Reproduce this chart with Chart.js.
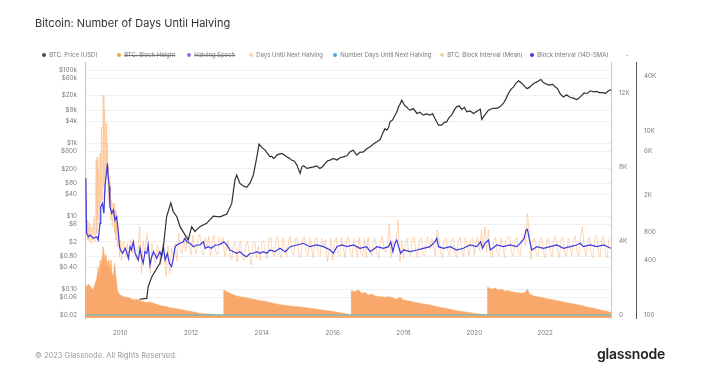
<!DOCTYPE html>
<html><head><meta charset="utf-8">
<script src="https://cdn.jsdelivr.net/npm/chart.js@4/dist/chart.umd.min.js"></script>
<style>
html,body{margin:0;padding:0;background:#fff;width:711px;height:376px;overflow:hidden;font-family:Inter,"Liberation Sans",sans-serif;}
#wrap{position:relative;width:711px;height:376px;}
#c{position:absolute;left:0;top:0;width:711px;height:376px;}
#title{position:absolute;left:35px;top:18px;font-size:11px;line-height:1;color:#333;white-space:nowrap;}
#legend{position:absolute;left:0;top:55px;width:711px;height:0;font-size:6px;color:#777;}
.li{position:absolute;top:0;transform:translateY(-50%);white-space:nowrap;display:flex;align-items:center;line-height:1;}
.dot{width:4.5px;height:4.5px;border-radius:50%;margin-right:3px;margin-left:-2.25px;flex:none;}
.off .txt{text-decoration:line-through;}
#foot{position:absolute;left:35px;top:352px;font-size:7.5px;line-height:1;color:#999;white-space:nowrap;}
#logo{position:absolute;left:597px;top:347px;font-size:14px;line-height:1;color:#222;font-weight:600;letter-spacing:-0.2px;white-space:nowrap;}
</style></head>
<body><div id="wrap"><canvas id="c" width="711" height="376"></canvas>
<div id="title">Bitcoin: Number of Days Until Halving</div>
<div id="legend"></div>
<div id="foot">© 2023 Glassnode. All Rights Reserved.</div>
<div id="logo">glassnode</div></div>
<script>
// ---------------- data ----------------
const yearTicks = [2010, 2012, 2014, 2016, 2018, 2020, 2022];

const priceTicks = [0.02, 0.06, 0.1, 0.4, 0.8, 2, 6, 10, 40, 80, 200, 600, 1000, 4000, 8000, 20000, 60000, 100000];
const priceTickLabels = ['$0.02','$0.06','$0.10','$0.40','$0.80','$2','$6','$10','$40','$80','$200','$600','$1k','$4k','$8k','$20k','$60k','$100k'];
const daysTicks = [0, 4000, 8000, 12000];
const daysTickLabels = ['0','4K','8K','12K'];
const intervalTicks = [100, 400, 800, 2000, 6000, 10000, 40000];
const intervalTickLabels = ['100','400','800','2K','6K','10K','40K'];

// BTC: Price (USD)
const priceYears = [2010.54,2010.75,2010.79,2010.89,2011.12,2011.22,2011.31,2011.43,2011.50,2011.60,2011.69,2011.92,
2012.02,2012.11,2012.25,2012.44,2012.63,2012.82,
2013.01,2013.15,2013.24,2013.29,2013.38,2013.48,2013.57,2013.67,2013.76,2013.86,2013.92,
2014.00,2014.09,2014.23,2014.28,2014.33,2014.38,2014.42,2014.49,2014.56,2014.63,2014.70,2014.77,2014.84,2014.92,2014.99,
2015.08,2015.13,2015.18,2015.27,2015.37,2015.46,2015.55,2015.64,2015.72,2015.79,2015.86,2015.93,
2016.02,2016.12,2016.21,2016.30,2016.40,2016.49,2016.58,2016.68,2016.77,2016.87,2016.96,
2017.06,2017.15,2017.25,2017.34,2017.43,2017.48,2017.53,2017.58,2017.62,2017.69,2017.76,2017.81,2017.86,2017.90,2017.95,
2018.00,2018.04,2018.09,2018.14,2018.19,2018.28,2018.38,2018.46,2018.56,2018.65,2018.75,2018.82,2018.89,2018.94,2018.99,
2019.08,2019.15,2019.22,2019.29,2019.36,2019.43,2019.50,2019.57,2019.65,2019.72,2019.79,2019.88,2019.98,
2020.05,2020.12,2020.17,2020.21,2020.26,2020.33,2020.40,2020.52,2020.64,2020.73,2020.82,2020.89,2020.96,
2021.04,2021.11,2021.18,2021.25,2021.32,2021.39,2021.44,2021.48,2021.55,2021.62,2021.70,2021.77,2021.83,2021.88,2021.94,
2022.00,2022.07,2022.14,2022.21,2022.28,2022.35,2022.42,2022.47,2022.52,2022.60,2022.71,2022.80,2022.89,2022.95,
2023.04,2023.10,2023.18,2023.28,2023.37,2023.45,2023.55,2023.62,2023.70,2023.78,2023.86];
const priceValues = [0.054,0.057,0.119,0.22,0.52,1.47,9.7,23.4,13.3,9.7,5.2,2.24,
5.2,3.8,5.2,6.4,10.1,9.7,
11.5,22.5,98,134,79,67,62,82,134,423,940,
764,644,423,440,382,410,471,500,524,480,423,390,344,320,251,
149,225,240,204,215,225,240,204,230,279,330,344,
380,344,400,423,450,579,640,471,560,579,700,
793,950,1086,1250,2038,2500,2270,2700,3820,4300,5820,7000,9820,11500,14960,
12160,10500,9820,8500,7980,8800,6490,7000,5820,6300,5820,6400,4730,3800,3100,
3100,3700,3820,5100,5820,8000,9820,10500,8340,9500,7180,7600,6490,
7200,7980,8500,4450,5240,6500,7980,9000,8890,10000,12160,16000,22800,
30000,34600,44000,50500,45000,38500,34000,31300,33000,38500,44000,47300,52000,55100,46000,
42900,40000,38500,41000,34600,31000,22800,20000,18400,21000,17700,17000,15600,16800,
20500,23500,22800,27000,25200,26000,23700,24500,22800,26500,29400];

// Days Until Next Halving
const daysYears = [2009.01,2009.05,2009.10,2009.15,2009.19,2009.24,2009.29,2009.34,2009.36,2009.38,2009.41,2009.43,2009.46,2009.49,2009.51,2009.54,2009.57,2009.60,2009.63,2009.66,2009.68,2009.71,2009.74,2009.77,2009.81,2009.84,2009.88,2009.92,2009.96,
2010.00,2010.09,2010.18,2010.28,2010.37,2010.47,2010.56,2010.65,2010.75,2010.84,2010.94,
2011.03,2011.12,2011.22,2011.31,2011.41,2011.50,2011.69,2011.88,
2012.07,2012.25,2012.44,2012.63,2012.82,2012.92,2012.925,
2013.01,2013.10,2013.20,2013.29,2013.38,2013.57,2013.76,2013.95,
2014.14,2014.32,2014.51,2014.80,
2015.08,2015.36,2015.64,2015.93,
2016.21,2016.45,2016.52,2016.525,2016.63,2016.73,2016.82,2016.92,
2017.01,2017.10,2017.20,2017.34,2017.48,2017.62,2017.72,2017.81,2017.90,
2018.00,2018.19,2018.38,2018.56,2018.75,2018.94,
2019.13,2019.32,2019.50,2019.69,2019.88,
2020.07,2020.26,2020.37,2020.375,2020.49,2020.59,2020.68,2020.78,2020.87,2020.96,
2021.06,2021.20,2021.34,2021.44,2021.50,2021.56,2021.67,2021.86,
2022.05,2022.24,2022.42,2022.61,2022.80,2022.99,
2023.18,2023.37,2023.55,2023.74,2023.86];
const daysValues = [1530,1532,1676,1568,1441,1351,1676,1982,2252,2613,1982,2973,2613,3153,3694,3423,2973,3243,2613,2973,2793,2432,2973,2252,2072,2793,2072,1351,1171,
1081,991,955,901,811,847,775,721,667,703,631,
577,504,486,450,396,360,306,234,
162,90,60,36,10,0,1351,
1261,1171,1081,1027,991,919,847,775,
721,631,560,486,
432,360,288,216,
126,36,0,1315,1261,1351,1171,1207,
1081,1135,1027,991,955,991,901,847,955,
811,739,667,595,541,450,
378,306,234,180,126,
72,36,0,1495,1387,1450,1351,1387,1279,1315,
1261,1207,1171,1225,1387,1135,1027,955,
883,811,739,667,595,523,
432,360,270,198,130];

// Number Days Until Next Halving
const countYears = [2009.006, 2023.86];
const countValues = [0, 0];

// BTC: Block Interval (Mean), seconds
const meanYears = [2009.03,2009.05,2009.07,2009.09,2009.11,2009.13,2009.15,2009.18,2009.20,2009.23,2009.26,2009.29,2009.32,2009.34,2009.35,2009.37,2009.39,2009.41,2009.43,2009.45,2009.47,2009.49,2009.51,2009.52,2009.54,2009.56,2009.58,2009.60,2009.62,2009.64,2009.66,2009.67,2009.69,2009.71,2009.73,2009.75,2009.77,2009.79,2009.81,2009.83,2009.84,2009.86,2009.88,2009.90,2009.92,2009.95,2009.98,2010.00,2010.03,
2010.05,2010.10,2010.15,2010.20,2010.25,2010.30,2010.35,2010.40,2010.45,2010.50,2010.55,2010.60,2010.65,2010.70,2010.75,2010.80,2010.85,2010.90,2010.95,
2011.00,2011.05,2011.10,2011.15,2011.20,2011.25,2011.30,2011.35,2011.40,2011.45,2011.50,2011.55,2011.60,2011.65,2011.70,2011.75,2011.80,2011.85,2011.90,2011.95,
2012.00,2012.05,2012.10,2012.15,2012.20,2012.25,2012.30,2012.35,2012.40,2012.45,2012.50,2012.55,2012.60,2012.65,2012.70,2012.75,2012.80,2012.85,2012.90,2012.95,
2013.00,2013.05,2013.10,2013.15,2013.20,2013.25,2013.30,2013.35,2013.40,2013.45,2013.50,2013.55,2013.60,2013.65,2013.70,2013.75,2013.80,2013.85,2013.90,2013.95,
2014.00,2014.05,2014.10,2014.15,2014.20,2014.25,2014.30,2014.35,2014.40,2014.45,2014.50,2014.55,2014.60,2014.65,2014.70,2014.75,2014.80,2014.85,2014.90,2014.95,
2015.00,2015.05,2015.10,2015.15,2015.20,2015.25,2015.30,2015.35,2015.40,2015.45,2015.50,2015.55,2015.60,2015.65,2015.70,2015.75,2015.80,2015.85,2015.90,2015.95,
2016.00,2016.05,2016.10,2016.15,2016.20,2016.25,2016.30,2016.35,2016.40,2016.45,2016.50,2016.55,2016.60,2016.65,2016.70,2016.75,2016.80,2016.85,2016.90,2016.95,
2017.00,2017.05,2017.10,2017.15,2017.20,2017.25,2017.30,2017.35,2017.40,2017.45,2017.50,2017.55,2017.60,2017.65,2017.70,2017.75,2017.80,2017.85,2017.90,2017.95,
2018.00,2018.05,2018.10,2018.15,2018.20,2018.25,2018.30,2018.35,2018.40,2018.45,2018.50,2018.55,2018.60,2018.65,2018.70,2018.75,2018.80,2018.85,2018.90,2018.95,
2019.00,2019.05,2019.10,2019.15,2019.20,2019.25,2019.30,2019.35,2019.40,2019.45,2019.50,2019.55,2019.60,2019.65,2019.70,2019.75,2019.80,2019.85,2019.90,2019.95,
2020.00,2020.05,2020.10,2020.15,2020.20,2020.25,2020.30,2020.35,2020.40,2020.45,2020.50,2020.55,2020.60,2020.65,2020.70,2020.75,2020.80,2020.85,2020.90,2020.95,
2021.00,2021.05,2021.10,2021.15,2021.20,2021.25,2021.30,2021.35,2021.40,2021.45,2021.50,2021.55,2021.60,2021.65,2021.70,2021.75,2021.80,2021.85,2021.90,2021.95,
2022.00,2022.05,2022.10,2022.15,2022.20,2022.25,2022.30,2022.35,2022.40,2022.45,2022.50,2022.55,2022.60,2022.65,2022.70,2022.75,2022.80,2022.85,2022.90,2022.95,
2023.00,2023.05,2023.10,2023.15,2023.20,2023.25,2023.30,2023.35,2023.40,2023.45,2023.50,2023.55,2023.60,2023.65,2023.70,2023.75,2023.80,2023.85];
const meanValues = [3190,773,1080,653,912,626,993,602,912,653,1170,626,4840,773,5260,1080,3770,912,5720,1640,11100,1780,7350,24600,2480,16900,2100,12100,3190,7350,1780,4100,1500,3190,1080,1780,912,1640,1170,1640,773,1380,653,1170,553,912,430,653,396,
560,640,420,600,390,660,470,620,400,520,912,284,640,470,773,520,284,600,410,
365,580,450,349,600,420,261,560,284,540,430,600,390,773,520,469,700,490,741,560,
449,741,520,460,680,760,490,449,700,540,720,440,650,741,480,449,690,560,700,430,
520,653,430,400,600,626,379,560,640,420,396,590,626,450,349,600,626,420,560,396,
610,640,450,413,660,700,480,430,650,710,470,413,690,560,430,620,720,470,440,680,
700,460,420,650,710,500,430,690,560,420,640,700,450,430,680,560,660,379,500,680,
396,600,700,470,430,690,540,420,650,710,460,430,680,560,420,700,470,440,680,420,
700,520,440,660,690,470,413,640,710,520,480,560,993,413,640,560,700,1080,379,653,
413,600,682,470,430,660,700,500,420,640,690,460,430,680,710,520,680,560,430,840,
700,470,420,650,690,500,430,640,680,460,420,650,700,480,430,690,560,440,660,690,
440,620,710,500,840,560,912,480,840,470,420,650,700,470,430,690,560,420,650,700,
710,480,430,640,700,470,440,680,740,560,1270,780,400,620,690,470,430,660,700,480,
420,640,690,470,430,680,710,500,420,650,700,480,430,690,560,440,660,720,480,430,
700,912,560,430,640,700,460,420,680,740,500,430,650,710,480,420,660,700];

// Block Interval (14D-SMA), seconds
const smaYears = [2009.03,2009.05,2009.10,2009.15,2009.24,2009.34,2009.38,2009.43,2009.45,2009.50,2009.54,2009.57,2009.60,2009.64,2009.66,2009.69,2009.71,2009.76,2009.81,2009.85,2009.90,2009.95,2009.98,
2010.01,2010.07,2010.14,2010.18,2010.23,2010.28,2010.32,2010.37,2010.42,2010.47,2010.51,2010.56,2010.61,2010.65,2010.70,2010.75,2010.79,2010.84,2010.89,2010.94,
2011.03,2011.12,2011.17,2011.22,2011.27,2011.33,2011.39,2011.45,2011.50,2011.55,2011.60,2011.69,2011.78,2011.83,2011.88,2011.97,
2012.07,2012.16,2012.25,2012.35,2012.40,2012.49,2012.58,2012.68,2012.77,2012.87,2012.93,
2013.01,2013.10,2013.20,2013.29,2013.38,2013.48,2013.57,2013.67,2013.76,2013.86,2013.95,
2014.04,2014.14,2014.23,2014.37,2014.51,2014.66,2014.80,2014.99,
2015.17,2015.36,2015.55,2015.74,2015.93,
2016.02,2016.12,2016.26,2016.40,2016.59,2016.77,2016.96,
2017.06,2017.25,2017.43,2017.58,2017.64,2017.70,2017.76,2017.81,2017.86,2017.92,
2018.00,2018.19,2018.38,2018.56,2018.75,2018.89,2018.94,2018.99,
2019.13,2019.32,2019.50,2019.69,2019.88,
2020.07,2020.18,2020.23,2020.30,2020.40,2020.45,2020.64,2020.82,
2021.01,2021.20,2021.34,2021.41,2021.46,2021.50,2021.56,2021.62,2021.77,2021.95,
2022.14,2022.33,2022.52,2022.71,2022.89,2022.99,
2023.08,2023.27,2023.46,2023.65,2023.86];
const smaValues = [3062,773,710,741,682,710,653,993,1503,1637,1274,2483,3186,4457,3186,2483,1503,1274,1385,1078,1170,773,553,
509,469,531,488,413,553,509,626,469,430,396,531,413,365,488,469,577,349,430,488,
413,488,430,553,396,469,365,335,413,553,577,602,626,682,626,602,
553,577,577,626,531,553,531,577,577,602,626,
577,509,488,469,488,449,430,469,469,488,469,
488,469,509,488,531,488,553,577,
602,553,577,553,509,
469,553,577,553,577,531,553,
488,553,531,553,626,488,602,653,553,469,
509,488,509,531,553,626,682,553,
531,553,509,531,577,
553,626,531,602,653,509,577,553,
577,553,626,682,840,854,653,509,553,531,
553,577,531,553,577,602,
553,577,553,577,531];

// ---------------- chart ----------------
const pts = (xs, ys) => xs.map((x, i) => ({x: x, y: ys[i]}));
const tickFont = {family: 'Inter, "Liberation Sans", sans-serif', size: 6.3};
const tickColor = '#7a7a7a';

const chart = new Chart(document.getElementById('c'), {
  type: 'line',
  data: {
    datasets: [
      {label: 'BTC: Price (USD)', data: pts(priceYears, priceValues), yAxisID: 'yPrice',
       borderColor: '#2f2f2f', borderWidth: 1.2, order: 1, legendColor: '#4a4a4a'},
      {label: 'BTC: Block Height', data: [], hidden: true, yAxisID: 'yDays',
       borderColor: '#f5a442', order: 9, legendColor: '#f5a442'},
      {label: 'Halving Epoch', data: [], hidden: true, yAxisID: 'yDays',
       borderColor: '#9b6ce0', order: 9, legendColor: '#9b6ce0'},
      {label: 'Days Until Next Halving', data: pts(daysYears, daysValues), yAxisID: 'yDays',
       borderColor: '#f8a86a', backgroundColor: '#f8a86a', borderWidth: 0.6, fill: 'start', order: 10, legendColor: '#fcd3b4'},
      {label: 'Number Days Until Next Halving', data: pts(countYears, countValues), yAxisID: 'yDays',
       borderColor: '#48bfd6', borderWidth: 1.2, order: 2, legendColor: '#3bb5d6'},
      {label: 'BTC: Block Interval (Mean)', data: pts(meanYears, meanValues), yAxisID: 'yInt',
       borderColor: 'rgba(252,196,148,0.75)', borderWidth: 0.9, order: 8, legendColor: '#fcd29c'},
      {label: 'Block Interval (14D-SMA)', data: pts(smaYears, smaValues), yAxisID: 'yInt',
       borderColor: '#3a3ae0', borderWidth: 1.2, order: 3, legendColor: '#3c3ce6'}
    ]
  },
  options: {
    responsive: false, animation: false, devicePixelRatio: 1,
    layout: {padding: {top: 62, bottom: 36, left: 0, right: 0}},
    elements: {point: {radius: 0}, line: {tension: 0}},
    plugins: {legend: {display: false}, tooltip: {enabled: false}},
    scales: {
      x: {
        type: 'linear', min: 2009.006, max: 2023.86,
        afterBuildTicks: s => { s.ticks = yearTicks.map(v => ({value: v})); },
        afterFit: s => { s.height = 22; },
        ticks: {callback: v => String(v), color: tickColor, font: tickFont, padding: 11, maxRotation: 0, autoSkip: false},
        grid: {display: false, drawTicks: false}, border: {display: false}
      },
      yPrice: {
        type: 'logarithmic', position: 'left', min: 0.01656, max: 165500,
        afterBuildTicks: s => { s.ticks = priceTicks.map(v => ({value: v})); },
        afterFit: s => { s.width = 85; },
        ticks: {callback: (v, i) => priceTickLabels[i], color: tickColor, font: tickFont, padding: 8, autoSkip: false},
        grid: {color: '#f0f0f0', lineWidth: 1, drawTicks: false},
        border: {color: '#c8c8c8', width: 1}
      },
      yDays: {
        type: 'linear', position: 'right', min: -162, max: 13676,
        afterBuildTicks: s => { s.ticks = daysTicks.map(v => ({value: v})); },
        afterFit: s => { s.width = 25; },
        ticks: {callback: (v, i) => daysTickLabels[i], color: tickColor, font: tickFont, padding: 8, autoSkip: false},
        grid: {drawOnChartArea: false, drawTicks: false},
        border: {color: '#c8c8c8', width: 1}
      },
      yInt: {
        type: 'logarithmic', position: 'right', min: 92.8, max: 56230,
        afterBuildTicks: s => { s.ticks = intervalTicks.map(v => ({value: v})); },
        afterFit: s => { s.width = 75; },
        ticks: {callback: (v, i) => intervalTickLabels[i], color: tickColor, font: tickFont, padding: 8, autoSkip: false},
        grid: {drawOnChartArea: false, drawTicks: false},
        border: {color: '#555', width: 1}
      }
    }
  }
});

// HTML legend built from the datasets
const legendDotX = [44, 119, 189, 251, 335, 442, 532];
const legendEl = document.getElementById('legend');
chart.data.datasets.forEach((ds, i) => {
  const item = document.createElement('div');
  item.className = 'li' + (ds.hidden ? ' off' : '');
  item.style.left = legendDotX[i] + 'px';
  const dot = document.createElement('span');
  dot.className = 'dot';
  dot.style.background = ds.legendColor;
  const txt = document.createElement('span');
  txt.className = 'txt';
  txt.textContent = ds.label;
  item.appendChild(dot); item.appendChild(txt);
  legendEl.appendChild(item);
});
const more = document.createElement('div');
more.className = 'li'; more.style.left = '626px'; more.textContent = '-';
legendEl.appendChild(more);
</script>
</body></html>
